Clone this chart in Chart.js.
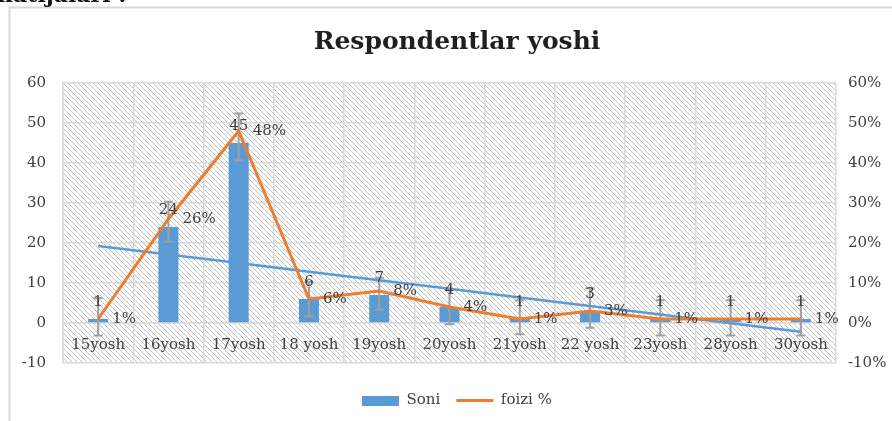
<!DOCTYPE html>
<html><head><meta charset="utf-8">
<script src="https://cdn.jsdelivr.net/npm/chart.js@4"></script>
<style>html,body{margin:0;padding:0;background:#fff}#wrap{width:892px;height:421px;position:relative;overflow:hidden}</style>
</head><body><div id="wrap"><canvas id="c" width="892" height="421"></canvas></div>
<script>
const categories = ['15yosh','16yosh','17yosh','18 yosh','19yosh','20yosh','21yosh','22 yosh','23yosh','28yosh','30yosh'];
const soni = [1, 24, 45, 6, 7, 4, 1, 3, 1, 1, 1];
const foizi = [1, 26, 48, 6, 8, 4, 1, 3, 1, 1, 1];
const errUp = [5.2, 6.3, 7.4, 4.3, 4.3, 4.3, 4.7, 5.7, 4.7, 4.7, 4.7];
const errDown = [4.1, 3.7, 4.3, 4.3, 3.7, 4.3, 3.8, 4.2, 4.1, 4.1, 4.1];
const axisMin = -10, axisMax = 60, axisStep = 10;
const titleText = 'Respondentlar yoshi';
const captionText = 'natijalari :';

// Linear (least squares) trendline of "Soni", as the spreadsheet computes it
const trend = (() => {
  const n = soni.length;
  const xs = soni.map((_, i) => i + 1);
  const mx = xs.reduce((a, b) => a + b, 0) / n;
  const my = soni.reduce((a, b) => a + b, 0) / n;
  let sxy = 0, sxx = 0;
  xs.forEach((x, i) => { sxy += (x - mx) * (soni[i] - my); sxx += (x - mx) * (x - mx); });
  const b = sxy / sxx, a = my - b * mx;
  return xs.map(x => a + b * x);
})();

const FONT = "'DejaVu Serif', serif";
const BLUE = '#5B9BD5', ORANGE = '#ED7D31', GRID = '#d9d9d9', TXT = '#404040';

// hatch pattern
const tile = document.createElement('canvas');
tile.width = 5; tile.height = 5;
(() => {
  const t = tile.getContext('2d');
  t.fillStyle = '#fff'; t.fillRect(0, 0, 5, 5);
  t.strokeStyle = '#c2c2c2'; t.lineWidth = 1;
  t.beginPath();
  t.moveTo(-1, -1); t.lineTo(6, 6);
  t.moveTo(-1, 4); t.lineTo(1, 6);
  t.moveTo(4, -1); t.lineTo(6, 1);
  t.stroke();
})();

// legend icon for bars
const barIcon = document.createElement('canvas');
barIcon.width = 37; barIcon.height = 10;
(() => { const g = barIcon.getContext('2d'); g.fillStyle = BLUE; g.fillRect(0, 0, 37, 10); })();

const bgPlugin = {
  id: 'bg',
  beforeDraw(chart) {
    const ctx = chart.ctx, a = chart.chartArea;
    ctx.save();
    ctx.fillStyle = ctx.createPattern(tile, 'repeat');
    ctx.fillRect(a.left, a.top, a.right - a.left, a.bottom - a.top);
    ctx.strokeStyle = GRID; ctx.lineWidth = 2;
    ctx.beginPath(); ctx.moveTo(9.5, 421); ctx.lineTo(9.5, 7.5); ctx.lineTo(892, 7.5); ctx.stroke();
    ctx.fillStyle = '#111';
    ctx.font = "bold 22px " + FONT;
    ctx.textBaseline = 'alphabetic';
    ctx.fillText(captionText, -3, 2);
    ctx.restore();
  }
};

const errPlugin = {
  id: 'err',
  afterDatasetDraw(chart, args) {
    if (args.index !== 0) return;
    const ctx = chart.ctx, y = chart.scales.y, meta = chart.getDatasetMeta(0);
    ctx.save();
    ctx.strokeStyle = '#a0a0a0'; ctx.lineWidth = 2;
    meta.data.forEach((el, i) => {
      const v = soni[i];
      const t = y.getPixelForValue(v + errUp[i]), b = y.getPixelForValue(v - errDown[i]);
      ctx.beginPath();
      ctx.moveTo(el.x, t); ctx.lineTo(el.x, b);
      ctx.moveTo(el.x - 4.5, t); ctx.lineTo(el.x + 4.5, t);
      ctx.moveTo(el.x - 4.5, b); ctx.lineTo(el.x + 4.5, b);
      ctx.stroke();
    });
    ctx.restore();
  }
};

const labelPlugin = {
  id: 'lbl',
  afterDatasetsDraw(chart) {
    const ctx = chart.ctx;
    ctx.save();
    ctx.font = "15px " + FONT; ctx.fillStyle = TXT; ctx.textBaseline = 'middle';
    const bars = chart.getDatasetMeta(0).data;
    const y = chart.scales.y;
    ctx.textAlign = 'center';
    bars.forEach((el, i) => { ctx.fillText(String(soni[i]), el.x, y.getPixelForValue(soni[i]) - 17); });
    const pts = chart.getDatasetMeta(2).data;
    ctx.textAlign = 'left';
    pts.forEach((el, i) => { ctx.fillText(foizi[i] + '%', el.x + 14, el.y); });
    ctx.restore();
  }
};

new Chart(document.getElementById('c'), {
  data: {
    labels: categories,
    datasets: [
      { type: 'bar', label: 'Soni', data: soni, backgroundColor: BLUE, barPercentage: 0.285, categoryPercentage: 1, yAxisID: 'y', order: 3 },
      { type: 'line', label: 'Linear (Soni)', data: trend, borderColor: BLUE, borderWidth: 2.5, pointRadius: 0, yAxisID: 'y', order: 2 },
      { type: 'line', label: 'foizi %', data: foizi, borderColor: ORANGE, borderWidth: 3, pointRadius: 0, yAxisID: 'y2', order: 1, tension: 0 }
    ]
  },
  options: {
    responsive: false, animation: false, devicePixelRatio: 1,
    layout: { padding: { left: 22, right: 0, top: 0, bottom: 3 } },
    plugins: {
      tooltip: { enabled: false },
      title: { display: true, text: titleText, color: '#1f1f1f', font: { family: FONT, size: 25, weight: 'bold' }, padding: { top: 27, bottom: 26 } },
      legend: {
        position: 'bottom',
        title: { display: true, text: ' ', font: { size: 10 }, padding: { top: 1, bottom: 1 } },
        labels: {
          usePointStyle: true, pointStyleWidth: 37, padding: 16, color: TXT,
          font: { family: FONT, size: 15 },
          generateLabels() {
            return [
              { text: 'Soni', pointStyle: barIcon, fillStyle: BLUE, strokeStyle: BLUE, lineWidth: 0, datasetIndex: 0, hidden: false, fontColor: TXT },
              { text: 'foizi %', pointStyle: 'line', fillStyle: ORANGE, strokeStyle: ORANGE, lineWidth: 3, datasetIndex: 2, hidden: false, fontColor: TXT }
            ];
          }
        }
      }
    },
    scales: {
      x: {
        type: 'category', position: { y: 0 }, offset: true,
        grid: { color: GRID, lineWidth: 1.5, drawTicks: false, offset: true },
        border: { color: GRID, width: 1.5 },
        ticks: { font: { family: FONT, size: 15 }, color: TXT, padding: 13, maxRotation: 0, autoSkip: false }
      },
      y: {
        position: 'left', min: axisMin, max: axisMax,
        ticks: { stepSize: axisStep, font: { family: FONT, size: 15 }, color: TXT, padding: 17 },
        grid: { color: GRID, lineWidth: 1.5, drawTicks: false },
        border: { color: GRID, width: 1.5 },
        afterFit(s) { s.width = 41; }
      },
      y2: {
        position: 'right', min: axisMin, max: axisMax,
        ticks: { stepSize: axisStep, font: { family: FONT, size: 15 }, color: TXT, padding: 12, callback: v => v + '%' },
        grid: { drawOnChartArea: false, drawTicks: false },
        border: { display: false },
        afterFit(s) { s.width = 56; }
      }
    }
  },
  plugins: [bgPlugin, errPlugin, labelPlugin]
});
</script>
</body></html>
